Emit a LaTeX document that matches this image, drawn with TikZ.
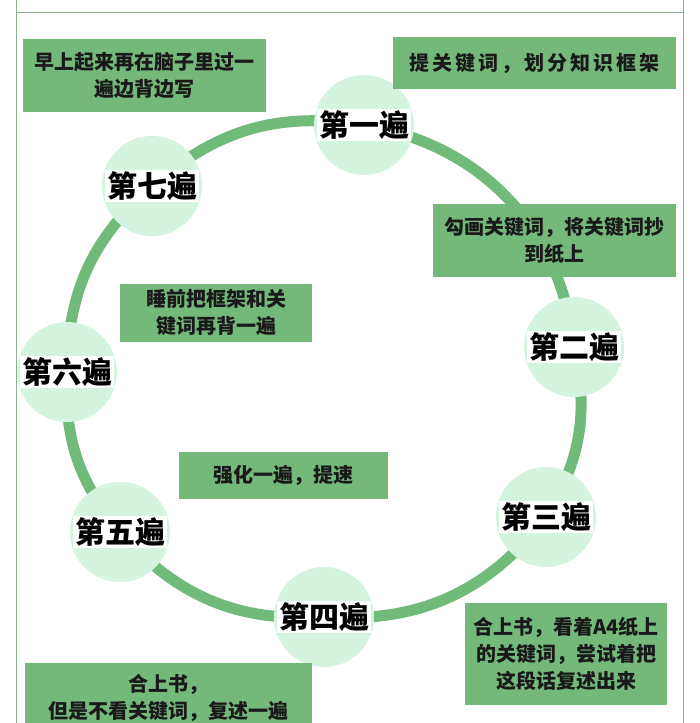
\documentclass[tikz,border=0pt]{standalone}
\usepackage{fontspec}
\setmainfont{Noto Sans CJK SC}
\newfontfamily\widecjk[LetterSpace=15]{Noto Sans CJK SC}
\newfontfamily\heavycjk{Noto Sans CJK SC Black}
\usetikzlibrary{backgrounds}
\definecolor{ringgreen}{HTML}{70BA7A}
\definecolor{boxgreen}{HTML}{74B97A}
\definecolor{mint}{HTML}{D5F4DF}
\definecolor{rimgreen}{HTML}{8CAF91}
\begin{document}
\begin{tikzpicture}[x=1pt,y=1pt,
  pass/.style={circle,fill=mint,minimum size=100pt,inner sep=0pt,label={[passtext]center:#1}},
  passtext/.style={fill=white,inner xsep=2pt,inner ysep=1pt,font=\heavycjk\fontsize{30}{32}\selectfont},
  tip/.style={fill=boxgreen,inner sep=0pt,align=center,text=black!90,font=\fontsize{20}{27}\selectfont\bfseries},
  ring/.style={draw=ringgreen,line width=11pt},
  rim/.style={draw=rimgreen,line width=1.5pt}]
\useasboundingbox (0,0) rectangle (700,723);
\clip (0,0) rectangle (700,723);
\node[pass=第一遍] (p1) at (364,598) {};
\node[pass=第二遍] (p2) at (574,376) {};
\node[pass=第三遍] (p3) at (546,206) {};
\node[pass=第四遍] (p4) at (324,106) {};
\node[pass=第五遍] (p5) at (120,191) {};
\node[pass=第六遍] (p6) at (67,351) {};
\node[pass=第七遍] (p7) at (152,537) {};
\begin{scope}[on background layer]
\fill[white] (0,0) rectangle (700,723);
\shade[left color=white,middle color=yellow!14,right color=white] (17,711) rectangle (683,723);
\draw[rim] (16.5,0)--(16.5,723) (683.5,0)--(683.5,723) (16.5,710.5)--(683.5,710.5);
\draw[ring] (p1.center) to[bend left=37] (p2.center) to[bend left=22] (p3.center) to[bend left=28] (p4.center)
  to[bend left=26] (p5.center) to[bend left=21] (p6.center) to[bend left=24] (p7.center) to[bend left=25] (p1.center);
\end{scope}
\node[tip,minimum width=243pt,minimum height=73pt] (t7) at (144.5,647.5) {早上起来再在脑子里过一\\遍边背边写};
\node[tip,minimum width=283pt,minimum height=52pt,font=\widecjk\fontsize{20}{27}\selectfont\bfseries] (t1) at (534.5,660) {提关键词，划分知识框架};
\node[tip,minimum width=243pt,minimum height=73pt] (t2) at (554.5,482.5) {勾画关键词，将关键词抄\\到纸上};
\node[tip,minimum width=192pt,minimum height=58pt] (t6) at (216,410) {睡前把框架和关\\键词再背一遍};
\node[tip,minimum width=209pt,minimum height=47pt] (t5) at (283.5,247.5) {强化一遍，提速};
\node[tip,minimum width=202pt,minimum height=102pt] (t3) at (566,69) {合上书，看着A4纸上\\的关键词，尝试着把\\这段话复述出来};
\node[tip,minimum width=287pt,minimum height=69pt] (t4) at (168.5,25.5) {合上书，\\但是不看关键词，复述一遍};
\end{tikzpicture}
\end{document}
